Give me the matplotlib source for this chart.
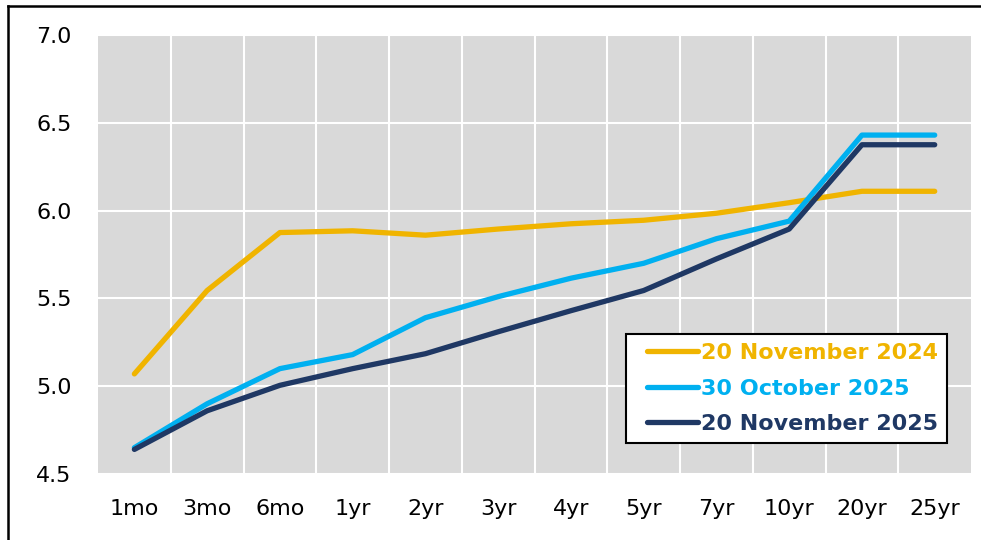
import matplotlib.pyplot as plt
import numpy as np
from matplotlib.lines import Line2D
from matplotlib.legend_handler import HandlerLine2D

# yield curve data
tenors = ['1mo', '3mo', '6mo', '1yr', '2yr', '3yr', '4yr', '5yr', '7yr', '10yr', '20yr', '25yr']
nov_2024 = [5.07, 5.545, 5.875, 5.885, 5.86, 5.895, 5.925, 5.945, 5.985, 6.045, 6.11, 6.11]
oct_2025 = [4.65, 4.90, 5.10, 5.18, 5.39, 5.51, 5.615, 5.70, 5.84, 5.94, 6.43, 6.43]
nov_2025 = [4.64, 4.86, 5.005, 5.10, 5.185, 5.31, 5.43, 5.545, 5.725, 5.895, 6.375, 6.375]

labels = ['20 November 2024', '30 October 2025', '20 November 2025']
colors = ['#F0B400', '#00B0F0', '#1F3864']


# legend line with some space on its left only
class PadLine(HandlerLine2D):
    def get_xdata(self, legend, xdescent, ydescent, width, height, fontsize):
        xd = np.array([-xdescent + 0.55 * fontsize, -xdescent + width])
        return xd, xd


fig = plt.figure(figsize=(9.81, 5.4), dpi=100)
ax = fig.add_axes([0.0999, 0.1222, 0.89, 0.813])
ax.set_facecolor('#D9D9D9')

x = list(range(len(tenors)))
for vals, lab, col in zip([nov_2024, oct_2025, nov_2025], labels, colors):
    ax.plot(x, vals, color=col, lw=3.8, label=lab, solid_capstyle='round', solid_joinstyle='round')

ax.set_xlim(-0.5, len(tenors) - 0.5)
ax.set_ylim(4.5, 7.0)
ax.set_xticks(x)
ax.set_xticklabels(tenors)
ax.set_xticks([i + 0.5 for i in x[:-1]], minor=True)
ax.set_yticks([4.5, 5.0, 5.5, 6.0, 6.5, 7.0])
ax.set_yticklabels(['4.5', '5.0', '5.5', '6.0', '6.5', '7.0'])

ax.grid(True, which='minor', axis='x', color='white', lw=1.5)
ax.grid(True, which='major', axis='y', color='white', lw=1.5)
ax.set_axisbelow(True)
for s in ax.spines.values():
    s.set_visible(False)
ax.tick_params(which='both', length=0)
ax.tick_params(axis='x', pad=18, labelsize=16)
ax.tick_params(axis='y', pad=19, labelsize=16)

leg = ax.legend(loc='lower right', bbox_to_anchor=(0.9725, 0.0706), borderaxespad=0, fontsize=16,
                frameon=True, fancybox=False, handlelength=2.85, handletextpad=0.15,
                borderpad=0.4, labelspacing=0.7, handler_map={Line2D: PadLine()})
leg.get_frame().set_edgecolor('black')
leg.get_frame().set_linewidth(1.5)
leg.get_frame().set_facecolor('white')
leg.get_frame().set_alpha(1)
for txt, col in zip(leg.get_texts(), colors):
    txt.set_color(col)
    txt.set_fontweight('bold')

# figure border (top and left)
fig.add_artist(Line2D([8 / 981, 1], [1 - 6 / 540, 1 - 6 / 540], color='black', lw=1.8, transform=fig.transFigure))
fig.add_artist(Line2D([8 / 981, 8 / 981], [0, 1 - 6 / 540], color='black', lw=1.8, transform=fig.transFigure))

fig.savefig('out.png', dpi=100)
